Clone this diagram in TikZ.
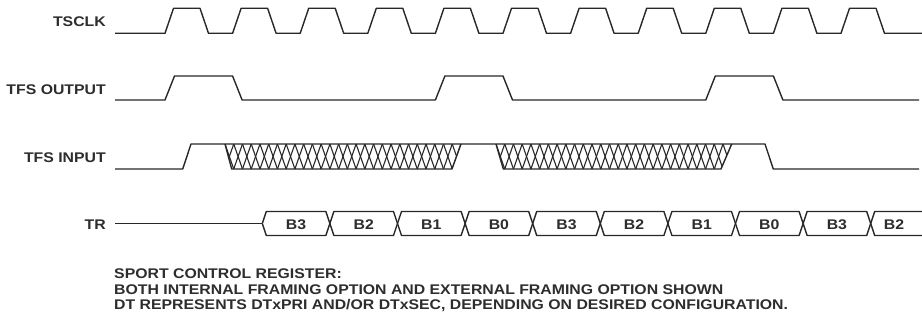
\documentclass[tikz,border=0pt]{standalone}
\usepackage{fontspec}
\newfontfamily\diagfont{Liberation Sans}[FakeStretch=1.13]
\definecolor{linec}{RGB}{40,40,40}
\definecolor{txtc}{RGB}{45,45,45}
\begin{document}
\begin{tikzpicture}[x=1pt,y=-1pt,
  sig/.style={draw=linec, line width=1.4pt, line join=round},
  hatchline/.style={draw=linec, line width=1.1pt},
  lbl/.style={font=\diagfont\bfseries\fontsize{14}{15.8}\selectfont, text=txtc, inner sep=0pt},
  busl/.style={font=\diagfont\bfseries\fontsize{14}{15.8}\selectfont, text=txtc, inner sep=0pt, anchor=base}]
\useasboundingbox[fill=white] (0,0) rectangle (922,321);

% signal labels
\node[lbl, anchor=base east] (lclk) at (106,26.7) {TSCLK};
\node[lbl, anchor=base east] (lout) at (106,94.3) {TFS OUTPUT};
\node[lbl, anchor=base east] (lin)  at (106,162.7) {TFS INPUT};
\node[lbl, anchor=base east] (ltr)  at (106,229.3) {TR};

% TSCLK
\draw[sig] (115,33.3) foreach \k in {0,...,10} {
  -- ({165+67.6*\k},33.3) -- ({173.5+67.6*\k},8.3) -- ({200+67.6*\k},8.3) -- ({208.5+67.6*\k},33.3) }
  -- (922,33.3);

% TFS OUTPUT
\draw[sig] (115,100) foreach \k in {0,4,8} {
  -- ({165+67.6*\k},100) -- ({174.5+67.6*\k},76) -- ({232.6+67.6*\k},76) -- ({242.1+67.6*\k},100) }
  -- (919,100);

% TFS INPUT
\draw[sig] (115,169) -- (182.7,169) -- (191,144) -- (765,144) -- (773.3,169) -- (919,169);
% hatched regions
\begin{scope}
  \clip (225,144) -- (461,144) -- (452,169) -- (231.7,169) -- cycle;
  \foreach \i in {-1,...,27} {
    \draw[hatchline] ({225+8.74*\i},144) -- ({225+8.74*(\i+1)},169);
    \draw[hatchline] ({225+8.74*\i},169) -- ({225+8.74*(\i+1)},144);
  }
\end{scope}
\draw[sig] (225,144) -- (231.7,169) -- (452,169) -- (461,144);
\begin{scope}
  \clip (496,144) -- (731.7,144) -- (721,169) -- (503.3,169) -- cycle;
  \foreach \i in {-1,...,27} {
    \draw[hatchline] ({496+8.73*\i},144) -- ({496+8.73*(\i+1)},169);
    \draw[hatchline] ({496+8.73*\i},169) -- ({496+8.73*(\i+1)},144);
  }
\end{scope}
\draw[sig] (496,144) -- (503.3,169) -- (721,169) -- (731.7,144);

% TR bus
\draw[sig] (115,223.5) -- (262.3,223.5);
\draw[sig] (262.3,223.5) -- (266.3,211.5)
  foreach \k/\ya/\yb in {1/211.5/235.5,2/235.5/211.5,3/211.5/235.5,4/235.5/211.5,5/211.5/235.5,6/235.5/211.5,7/211.5/235.5,8/235.5/211.5,9/211.5/235.5} {
  -- ({262.3+67.6*\k-4},\ya) -- ({262.3+67.6*\k+4},\yb) }
  -- (922,235.5);
\draw[sig] (262.3,223.5) -- (266.3,235.5)
  foreach \k/\ya/\yb in {1/235.5/211.5,2/211.5/235.5,3/235.5/211.5,4/211.5/235.5,5/235.5/211.5,6/211.5/235.5,7/235.5/211.5,8/211.5/235.5,9/235.5/211.5} {
  -- ({262.3+67.6*\k-4},\ya) -- ({262.3+67.6*\k+4},\yb) }
  -- (922,211.5);
\foreach \k/\t in {0/B3,1/B2,2/B1,3/B0,4/B3,5/B2,6/B1,7/B0,8/B3} {
  \node[busl] (b\k) at ({296.1+67.6*\k},229.5) {\t};
}
\node[busl] (b9) at (894,229.5) {B2};

% notes
\node[lbl, anchor=base west] (n1) at (114,278) {SPORT CONTROL REGISTER:};
\node[lbl, anchor=base west] (n2) at (114,294) {BOTH INTERNAL FRAMING OPTION AND EXTERNAL FRAMING OPTION SHOWN};
\node[lbl, anchor=base west] (n3) at (114,309.8) {DT REPRESENTS DTxPRI AND/OR DTxSEC, DEPENDING ON DESIRED CONFIGURATION.};
\end{tikzpicture}
\end{document}
